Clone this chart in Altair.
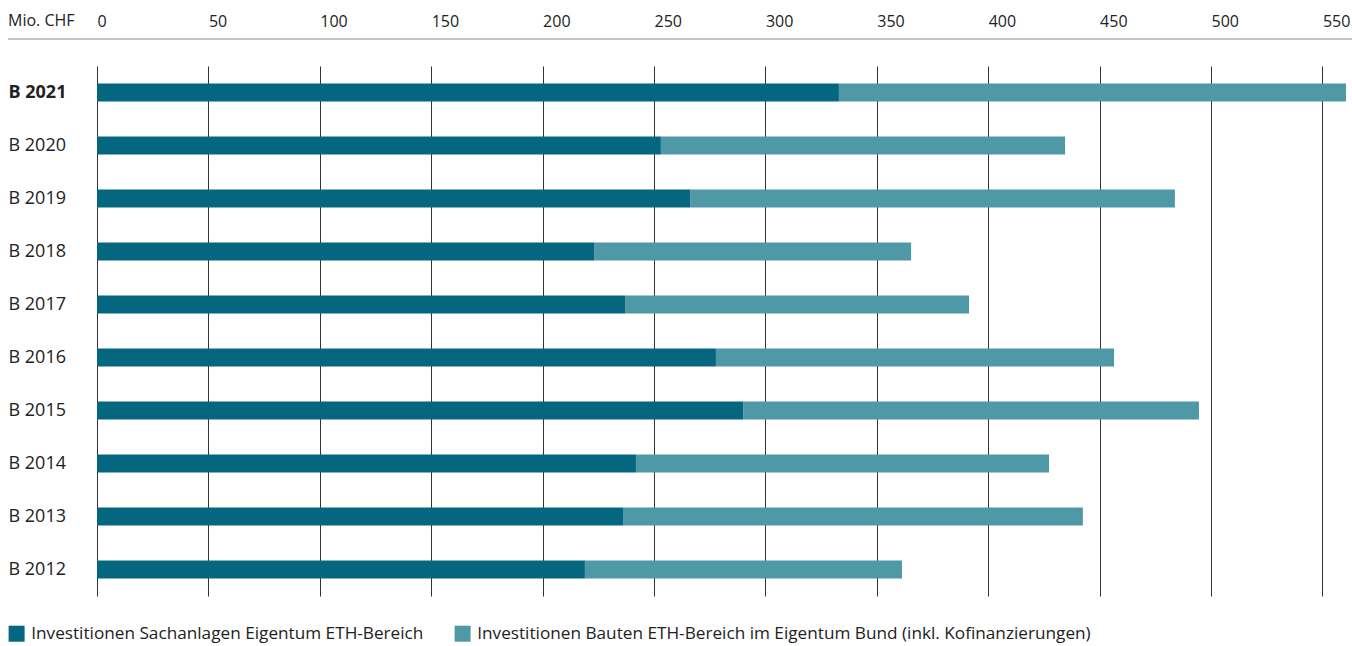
import altair as alt
import pandas as pd

years = ["B 2021", "B 2020", "B 2019", "B 2018", "B 2017", "B 2016", "B 2015", "B 2014", "B 2013", "B 2012"]
sachanlagen = [333.0, 253.1, 266.2, 223.1, 237.0, 277.8, 290.0, 241.9, 236.1, 219.0]
bauten = [227.6, 181.4, 217.6, 142.3, 154.4, 178.7, 204.6, 185.4, 206.4, 142.3]
series = ["Investitionen Sachanlagen Eigentum ETH-Bereich",
          "Investitionen Bauten ETH-Bereich im Eigentum Bund (inkl. Kofinanzierungen)"]
colors = ["#04667f", "#4f98a5"]
ticks = list(range(0, 551, 50))

rows = []
for y, a, b in zip(years, sachanlagen, bauten):
    rows.append({"year": y, "series": series[0], "value": a, "ord": 0})
    rows.append({"year": y, "series": series[1], "value": b, "ord": 1})
df = pd.DataFrame(rows)

FONT = "Open Sans"
FS = 16

bars = alt.Chart(df).mark_bar(size=18).encode(
    y=alt.Y("year:N", sort=years, title=None,
            axis=alt.Axis(orient="left", ticks=False, domain=False, labelAlign="left",
                          labelPadding=89, labelFontSize=18, labelFont=FONT, labelColor="#222",
                          labelFontWeight=alt.expr("datum.value == 'B 2021' ? 'bold' : 'normal'"))),
    x=alt.X("value:Q", stack="zero", title=None,
            scale=alt.Scale(domain=[0, 560.6], nice=False, zero=True),
            axis=alt.Axis(orient="top", values=ticks, ticks=False, domain=False, offset=27,
                          labelAlign="left", labelPadding=10, labelFontSize=FS, labelFont=FONT,
                          labelColor="#222", grid=True, gridColor="#333", gridWidth=1,
                          labelFlush=False)),
    color=alt.Color("series:N", sort=series, scale=alt.Scale(domain=series, range=colors),
                    legend=alt.Legend(orient="none", legendX=-89, legendY=559, direction="horizontal",
                                      title=None, symbolType="square", symbolSize=256,
                                      symbolStrokeWidth=0, labelFontSize=17.2, labelFont=FONT,
                                      labelColor="#222", columnPadding=30, labelOffset=6,
                                      labelLimit=800)),
    order=alt.Order("ord:Q"),
)

line = alt.Chart(pd.DataFrame({"a": [0]})).mark_rule(color="#888", strokeWidth=1).encode(
    x=alt.value(-89), x2=alt.value(1255), y=alt.value(-27))

unit = alt.Chart(pd.DataFrame({"t": ["Mio. CHF"]})).mark_text(
    align="left", baseline="bottom", font=FONT, fontSize=FS, color="#222").encode(
    text="t:N", x=alt.value(-89), y=alt.value(-37))

chart = alt.layer(bars, line, unit).properties(
    width=1249, height=530,
    autosize=alt.AutoSizeParams(type="none"),
    padding={"left": 97, "top": 66, "right": 6, "bottom": 50},
    background="white",
).configure_view(stroke=None)

chart.save("out.html", embed_options={"renderer": "svg", "actions": False})
